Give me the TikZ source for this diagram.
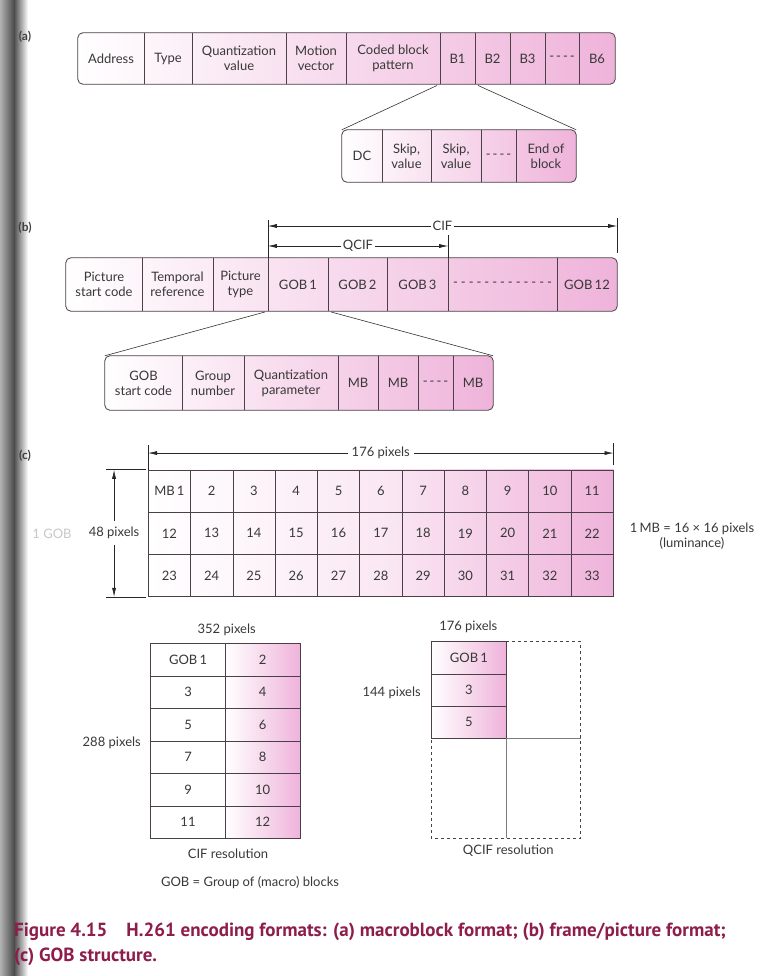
\documentclass[tikz,border=0pt]{standalone}
\usepackage{fontspec}
\setmainfont{Lato}
\newfontfamily\capfont{PT Sans}
\usetikzlibrary{arrows.meta, positioning, calc, backgrounds}
\definecolor{recpink}{HTML}{EFB3DA}
\definecolor{recline}{HTML}{4B4048}
\definecolor{capred}{HTML}{8E1D4B}
\colorlet{txtgray}{black!78}
\newcommand{\dashline}[2]{\foreach \k in {1,...,#1}{-\ifnum\k<#1\hskip#2\fi}}
\tikzset{
  cell/.style={inner sep=0pt, align=center, text=txtgray, font=\fontsize{13}{15}\selectfont},
  gridcell/.style={cell, draw=recline, line width=0.5pt},
  rec/.style={draw=recline, line width=0.8pt, rounded corners=5pt},
  divider/.style={draw=recline, line width=0.5pt},
  conn/.style={draw=black!80, line width=0.6pt, shorten <=3pt},
  tick/.style={draw=black!85, line width=0.6pt},
  dim/.style={draw=black!85, line width=0.6pt, {Latex[length=9pt,width=4pt]}-{Latex[length=9pt,width=4pt]}},
  lbl/.style={text=txtgray, font=\fontsize{13}{15}\selectfont, inner sep=2pt},
  part/.style={text=black!75, font=\bfseries\fontsize{12}{12}\selectfont},
  capline/.style={text=capred, font=\capfont\bfseries\fontsize{19}{22}\selectfont, inner sep=0pt, anchor=west},
}

\begin{document}
\begin{tikzpicture}[x=1pt, y=-1pt]
  \useasboundingbox (0,0) rectangle (767,976);
  % binding shadow
  \shade[left color=black!30, right color=white, middle color=black!70] (0,0) rectangle (28,976);

  % (a) macroblock format
  \node[part] (pa) at (25,37) {(a)};
  \foreach \nm/\xa/\xb/\txt in {addr/78/144/Address, type/144/192/Type,
      quant/192/286/{Quantization\\value}, motion/286/346/{Motion\\vector},
      cbp/346/440/{Coded block\\pattern}, bone/440/475/B1, btwo/475/510/B2,
      bthree/510/545/B3, bdots/545/579/{\dashline{4}{2pt}}, bsix/579/615/B6}
    \node[cell, minimum width={(\xb-\xa)*1pt}, minimum height=51pt] (\nm) at ({(\xa+\xb)/2},58.5) {\txt};
  \foreach \nm/\xa/\xb/\txt in {dc/342/382/DC, skipa/382/431/{Skip,\\value},
      skipb/431/481/{Skip,\\value}, sdots/481/516/{\dashline{4}{2pt}}, eob/516/576/{End of\\block}}
    \node[cell, minimum width={(\xb-\xa)*1pt}, minimum height=52pt] (\nm) at ({(\xa+\xb)/2},156) {\txt};
  \begin{scope}[on background layer]
    \path[rec, left color=white, right color=recpink] (addr.north west) rectangle (bsix.south east);
    \path[rec, left color=white, right color=recpink] (dc.north west) rectangle (eob.south east);
  \end{scope}
  \foreach \nm in {addr,type,quant,motion,cbp,bone,btwo,bthree,bdots,dc,skipa,skipb,sdots}
    \draw[divider] (\nm.north east) -- (\nm.south east);
  \draw[conn] (bone.south west) -- (dc.north west);
  \draw[conn] (bone.south east) -- (eob.north east);

  % (b) frame/picture format
  \node[part] (pb) at (25,228) {(b)};
  \foreach \nm/\xa/\xb/\txt in {psc/66/142/{Picture\\start code}, tref/142/213/{Temporal\\reference},
      ptype/213/268/{Picture\\type}, gone/268/328/{GOB\,1}, gtwo/328/387/{GOB\,2},
      gthree/387/448/{GOB\,3}, gdots/448/557/{\dashline{13}{3pt}}, gtw/557/617/{GOB\,12}}
    \node[cell, minimum width={(\xb-\xa)*1pt}, minimum height=53pt] (\nm) at ({(\xa+\xb)/2},284.5) {\txt};
  \foreach \nm/\xa/\xb/\txt in {gsc/105/182/{GOB\\start code}, gnum/182/244/{Group\\number},
      qpar/244/338/{Quantization\\parameter}, mbone/338/378/MB, mbtwo/378/418/MB,
      mbdots/418/453/{\dashline{4}{2pt}}, mbn/453/493/MB}
    \node[cell, minimum width={(\xb-\xa)*1pt}, minimum height=54pt] (\nm) at ({(\xa+\xb)/2},383) {\txt};
  \begin{scope}[on background layer]
    \path[rec, left color=white, right color=recpink] (psc.north west) rectangle (gtw.south east);
    \path[rec, left color=white, right color=recpink] (gsc.north west) rectangle (mbn.south east);
  \end{scope}
  \foreach \nm in {psc,tref,ptype,gone,gtwo,gthree,gdots,gsc,gnum,qpar,mbone,mbtwo,mbdots}
    \draw[divider] (\nm.north east) -- (\nm.south east);
  \draw[conn] (gone.south west) -- (gsc.north west);
  \draw[conn] (gone.south east) -- (mbn.north east);
  % CIF / QCIF extents
  \draw[tick] (gone.north west) -- ++(0,-38);
  \draw[tick] ([yshift=5pt]gtw.north east) -- ++(0,-35);
  \draw[tick] (gthree.north east) -- ++(0,-23);
  \coordinate (cifl) at ([yshift=31.8pt]gone.north west);
  \coordinate (cifr) at ([yshift=31.8pt]gtw.north east);
  \coordinate (qcifl) at ([yshift=11.8pt]gone.north west);
  \coordinate (qcifr) at ([yshift=11.8pt]gthree.north east);
  \draw[dim] (cifl) -- node[lbl, fill=white] (cif) {CIF} (cifr);
  \draw[dim] (qcifl) -- node[lbl, fill=white] (qcif) {QCIF} (qcifr);

  % (c) GOB structure
  \node[part] (pc) at (25,456) {(c)};
  \foreach \row in {0,1,2}
    \foreach \col in {1,...,11}{
      \pgfmathtruncatemacro\idx{\row*11+\col}
      \node[gridcell, minimum width=42.27pt, minimum height=42.2pt] (mb\idx)
        at ({148.3+(\col-0.5)*42.27},{470+(\row+0.5)*42.2}) {\ifnum\idx=1 MB\,1\else\idx\fi};
    }
  \begin{scope}[on background layer]
    \path[left color=white, right color=recpink, middle color=recpink!30] (mb1.north west) rectangle (mb33.south east);
  \end{scope}
  \draw[tick] (mb1.north west) -- ++(0,-25);
  \draw[tick] ([yshift=5pt]mb11.north east) -- ++(0,-22);
  \coordinate (gw) at ([yshift=16.7pt]mb1.north west);
  \coordinate (ge) at ([yshift=16.7pt]mb11.north east);
  \draw[dim] (gw) -- node[lbl, fill=white, inner xsep=4pt] (gobw) {176 pixels} (ge);
  \draw[tick] ([xshift=-2pt]mb1.north west) -- ++(-40,0);
  \draw[tick] ([xshift=-2pt]mb23.south west) -- ++(-40,0);
  \coordinate (gt) at ([xshift=-34pt]mb1.north west);
  \coordinate (gb) at ([xshift=-34pt]mb23.south west);
  \draw[dim] (gt) -- node[lbl, fill=white, inner ysep=6pt] (gobh) {48 pixels} (gb);
  \node[lbl, text=black!22] (gobnote) at (52,534) {1 GOB};
  \node[lbl, align=center] (mbnote) at (692,536) {1\,MB = 16 × 16 pixels\\(luminance)};

  % CIF resolution
  \foreach \row in {0,...,5}
    \foreach \col in {1,2}{
      \pgfmathtruncatemacro\idx{\row*2+\col}
      \node[gridcell, minimum width=74.65pt, minimum height=32.5pt] (cif\idx)
        at ({150.7+(\col-0.5)*74.65},{643.3+(\row+0.5)*32.5}) {\ifnum\idx=1 GOB\,1\else\idx\fi};
    }
  \begin{scope}[on background layer]
    \path[left color=white, right color=recpink, middle color=white] (cif1.north west) rectangle (cif12.south east);
  \end{scope}
  \node[lbl] (cifw) at (226.7,630) {352 pixels};
  \node[lbl, anchor=east] (cifh) at (143,743) {288 pixels};
  \node[lbl] (cifres) at (228,854) {CIF resolution};
  \node[lbl] (gobdef) at (250,883) {GOB = Group of (macro) blocks};

  % QCIF resolution
  \foreach \row/\t in {0/GOB\,1,1/3,2/5}
    \node[gridcell, minimum width=74.3pt, minimum height=32.2pt] (q\row)
      at (468.85,{641.7+(\row+0.5)*32.2}) {\t};
  \begin{scope}[on background layer]
    \path[left color=white, right color=recpink] (q0.north west) rectangle (q2.south east);
  \end{scope}
  \coordinate (qse) at (580.7,838.3);
  \draw[recline, line width=0.5pt, dashed] (q0.north east) -- (q0.north east -| qse) -- (qse)
    -- (qse -| q2.south west) -- (q2.south west);
  \draw[recline!70, line width=0.5pt] (q2.south east) -- (q2.south east -| qse);
  \draw[recline!70, line width=0.5pt] (q2.south east) -- (q2.south east |- qse);
  \node[lbl] (qw) at (468.3,627.3) {176 pixels};
  \node[lbl] (qh) at (391.7,693.3) {144 pixels};
  \node[lbl] (qres) at (508.3,850.7) {QCIF resolution};

  % caption
  \node[capline] (capa) at (14,932) {Figure 4.15\quad H.261 encoding formats: (a) macroblock format; (b) frame/picture format;};
  \node[capline] (capb) at (14,957) {(c) GOB structure.};
\end{tikzpicture}
\end{document}
